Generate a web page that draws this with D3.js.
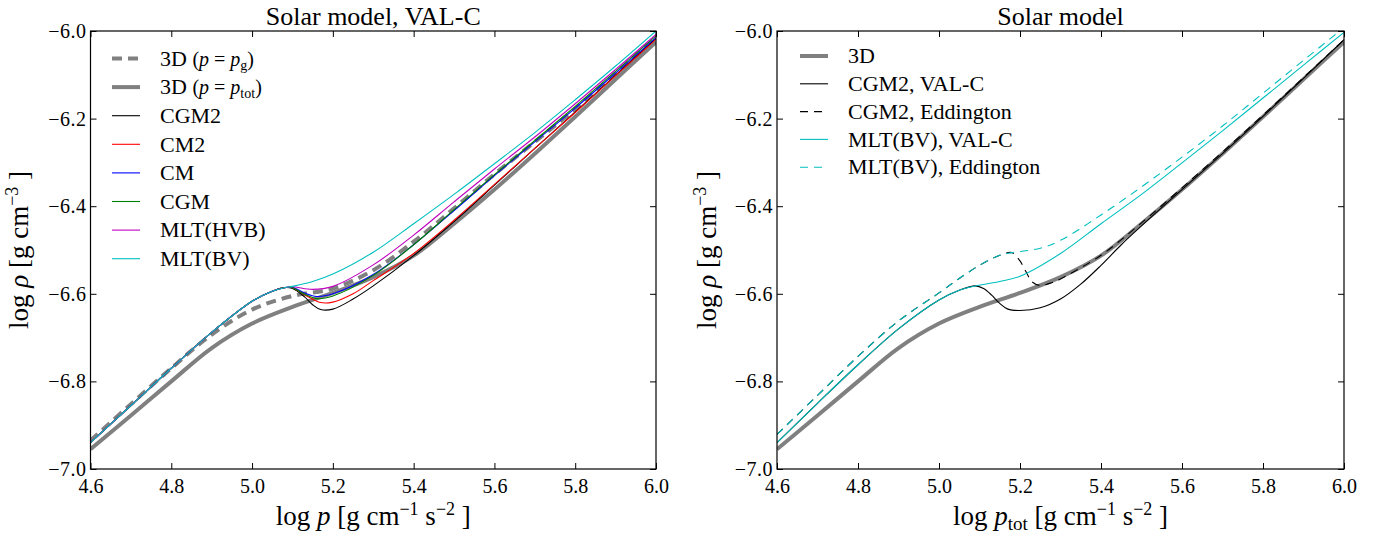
<!DOCTYPE html>
<html><head><meta charset="utf-8">
<script src="https://cdn.jsdelivr.net/npm/d3@7"></script>
<style>
body{margin:0;background:#fff;}
svg text{font-family:"Liberation Serif","Times New Roman",serif;fill:#000;}
</style></head>
<body><svg id="c" width="1386" height="535"></svg>
<script>
// ---------- tick values ----------
const xTicks = [4.6, 4.8, 5.0, 5.2, 5.4, 5.6, 5.8, 6.0];
const yTicks = [-7.0, -6.8, -6.6, -6.4, -6.2, -6.0];

// ---------- left panel: Solar model, VAL-C (x = log p) ----------
const lowX = [4.6, 4.7, 4.8, 4.9, 5.0, 5.05, 5.08];
const lowY = [-6.940, -6.855, -6.770, -6.688, -6.617, -6.594, -6.586];

const grid = [4.6, 4.7, 4.8, 4.9, 5.0, 5.1, 5.2, 5.3, 5.4, 5.5, 5.6, 5.7, 5.8, 5.9, 6.0];
const d3pgY   = [-6.935, -6.852, -6.770, -6.693, -6.636, -6.605, -6.588, -6.546, -6.481, -6.405, -6.327, -6.253, -6.178, -6.097, -6.015];
const d3ptotY = [-6.955, -6.878, -6.800, -6.724, -6.668, -6.630, -6.598, -6.562, -6.513, -6.440, -6.362, -6.280, -6.196, -6.110, -6.025];

const cgm2X = [5.1, 5.13, 5.15, 5.17, 5.2, 5.25, 5.3, 5.4, 5.5, 5.6, 5.7, 5.8, 5.9, 6.0];
const cgm2Y = [-6.588, -6.607, -6.625, -6.636, -6.635, -6.612, -6.582, -6.513, -6.435, -6.352, -6.268, -6.185, -6.101, -6.017];
const cm2X  = [5.1, 5.13, 5.17, 5.2, 5.25, 5.3, 5.4, 5.5, 5.6, 5.7, 5.8, 5.9, 6.0];
const cm2Y  = [-6.586, -6.602, -6.620, -6.619, -6.600, -6.570, -6.508, -6.432, -6.350, -6.268, -6.186, -6.102, -6.019];
const cmX   = [5.1, 5.13, 5.16, 5.2, 5.3, 5.4, 5.5, 5.6, 5.7, 5.8, 5.9, 6.0];
const cmY   = [-6.585, -6.598, -6.606, -6.600, -6.556, -6.488, -6.410, -6.330, -6.253, -6.176, -6.096, -6.015];
const cgmX  = [5.1, 5.13, 5.16, 5.2, 5.3, 5.4, 5.5, 5.6, 5.7, 5.8, 5.9, 6.0];
const cgmY  = [-6.586, -6.601, -6.611, -6.605, -6.558, -6.488, -6.408, -6.328, -6.250, -6.172, -6.092, -6.011];
const hvbX  = [5.1, 5.15, 5.2, 5.3, 5.4, 5.5, 5.6, 5.7, 5.8, 5.9, 6.0];
const hvbY  = [-6.584, -6.590, -6.583, -6.534, -6.466, -6.390, -6.315, -6.242, -6.166, -6.088, -6.008];
const bvX   = [5.1, 5.15, 5.2, 5.3, 5.4, 5.5, 5.6, 5.7, 5.8, 5.9, 6.0];
const bvY   = [-6.583, -6.572, -6.555, -6.505, -6.440, -6.373, -6.303, -6.232, -6.157, -6.080, -6.000];

// ---------- right panel: Solar model (x = log p_tot) ----------
const rBvX = [4.6, 4.7, 4.8, 4.9, 5.0, 5.05, 5.09, 5.15, 5.2, 5.3, 5.4, 5.5, 5.6, 5.7, 5.8, 5.9, 6.0];
const rBvY = [-6.940, -6.850, -6.762, -6.680, -6.614, -6.592, -6.582, -6.572, -6.560, -6.508, -6.440, -6.373, -6.301, -6.228, -6.153, -6.078, -6.003];
const rCgm2TailX = [5.11, 5.13, 5.15, 5.17, 5.2, 5.25, 5.3, 5.35, 5.4, 5.45, 5.5, 5.6, 5.7, 5.8, 5.9, 6.0];
const rCgm2TailY = [-6.588, -6.603, -6.622, -6.635, -6.638, -6.632, -6.612, -6.578, -6.535, -6.488, -6.445, -6.362, -6.280, -6.195, -6.108, -6.020];
const rEddX = [4.6, 4.7, 4.8, 4.9, 5.0, 5.05, 5.1, 5.15, 5.18, 5.25, 5.3, 5.4, 5.5, 5.6, 5.7, 5.8, 5.9, 6.0];
const rEddY = [-6.921, -6.832, -6.743, -6.662, -6.598, -6.565, -6.535, -6.512, -6.506, -6.496, -6.478, -6.420, -6.356, -6.288, -6.217, -6.142, -6.067, -5.992];
const rCgm2EddTailX = [5.2, 5.215, 5.23, 5.25, 5.28, 5.3, 5.4, 5.5, 5.6, 5.7, 5.8, 5.9, 6.0];
const rCgm2EddTailY = [-6.525, -6.550, -6.573, -6.581, -6.574, -6.566, -6.512, -6.438, -6.358, -6.276, -6.192, -6.106, -6.020];

const zip = (xs, ys) => xs.map((x, i) => [x, ys[i]]);

const GRAY = "#808080";
const leftSeries = [
  {data: zip(grid, d3pgY),   color: GRAY, w: 4, dash: "10,6"},
  {data: zip(grid, d3ptotY), color: GRAY, w: 4, dash: null},
  {data: zip(lowX.concat(cgm2X), lowY.concat(cgm2Y)), color: "#000000", w: 1.1, dash: null},
  {data: zip(lowX.concat(cm2X),  lowY.concat(cm2Y)),  color: "#ff0000", w: 1.1, dash: null},
  {data: zip(lowX.concat(cmX),   lowY.concat(cmY)),   color: "#0000ff", w: 1.1, dash: null},
  {data: zip(lowX.concat(cgmX),  lowY.concat(cgmY)),  color: "#008000", w: 1.1, dash: null},
  {data: zip(lowX.concat(hvbX), lowY.concat(hvbY)), color: "#bf00bf", w: 1.1, dash: null},
  {data: zip(lowX.concat(bvX),  lowY.concat(bvY)),  color: "#00bfbf", w: 1.1, dash: null}
];
// black curves share the read values of the cyan ones before they split
const rBvSplit = 7;
const rEddSplit = 9;
const rightSeries = [
  {data: zip(grid, d3ptotY), color: GRAY, w: 4, dash: null},
  {data: zip(rBvX.slice(0, rBvSplit).concat(rCgm2TailX), rBvY.slice(0, rBvSplit).concat(rCgm2TailY)), color: "#000000", w: 1.1, dash: null},
  {data: zip(rEddX.slice(0, rEddSplit).concat(rCgm2EddTailX), rEddY.slice(0, rEddSplit).concat(rCgm2EddTailY)), color: "#000000", w: 1.1, dash: "8,6"},
  {data: zip(rBvX, rBvY), color: "#00bfbf", w: 1.1, dash: null},
  {data: zip(rEddX, rEddY), color: "#00bfbf", w: 1.1, dash: "8,6"}
];

const svg = d3.select("#c");
const TOP = 31, BOT = 469;
const fmt = d => (d < 0 ? "\u2212" : "") + Math.abs(d).toFixed(1);

function panel(id, x0, x1, title, series, legendItems, legendX, legendY0, legendDy, xLabelParts, yLabelX) {
  const x = d3.scaleLinear().domain([4.6, 6.0]).range([x0, x1]);
  const y = d3.scaleLinear().domain([-7.0, -6.0]).range([BOT, TOP]);
  const g = svg.append("g");
  g.append("clipPath").attr("id", "clip" + id).append("rect")
    .attr("x", x0).attr("y", TOP).attr("width", x1 - x0).attr("height", BOT - TOP);
  const line = d3.line().x(d => x(d[0])).y(d => y(d[1])).curve(d3.curveCatmullRom.alpha(0.5));
  const lg = g.append("g").attr("clip-path", `url(#clip${id})`);
  series.forEach(s => {
    lg.append("path").attr("d", line(s.data)).attr("fill", "none")
      .attr("stroke", s.color).attr("stroke-width", s.w)
      .attr("stroke-dasharray", s.dash).attr("stroke-linejoin", "round");
  });
  const tick = 6;
  const axB = d3.axisBottom(x).tickValues(xTicks).tickSizeInner(-tick).tickSizeOuter(0).tickFormat(fmt).tickPadding(10);
  const axT = d3.axisTop(x).tickValues(xTicks).tickSizeInner(-tick).tickSizeOuter(0).tickFormat("");
  const axL = d3.axisLeft(y).tickValues(yTicks).tickSizeInner(-tick).tickSizeOuter(0).tickFormat(fmt).tickPadding(4);
  const axR = d3.axisRight(y).tickValues(yTicks).tickSizeInner(-tick).tickSizeOuter(0).tickFormat("");
  const gb = g.append("g").attr("transform", `translate(0,${BOT})`).call(axB);
  const gt = g.append("g").attr("transform", `translate(0,${TOP})`).call(axT);
  const gl = g.append("g").attr("transform", `translate(${x0},0)`).call(axL);
  const gr = g.append("g").attr("transform", `translate(${x1},0)`).call(axR);
  [gb, gt, gl, gr].forEach(a => {
    a.select(".domain").remove();
    a.selectAll("line").attr("stroke", "#000").attr("stroke-width", 1);
    a.selectAll("text").style("font-family", "Liberation Serif").style("font-size", "20px").attr("fill", "#000");
  });
  gl.selectAll("text").style("letter-spacing", "0.5px");
  g.append("rect").attr("x", x0).attr("y", TOP).attr("width", x1 - x0).attr("height", BOT - TOP)
    .attr("fill", "none").attr("stroke", "#000").attr("stroke-width", 1.2);
  g.append("text").attr("x", (x0 + x1) / 2).attr("y", 25).attr("text-anchor", "middle")
    .style("font-size", "26px").text(title);
  const xl = g.append("text").attr("x", (x0 + x1) / 2).attr("y", 525).attr("text-anchor", "middle").style("font-size", "27px");
  xLabelParts.forEach(p => {
    const t = xl.append("tspan").text(p.t);
    if (p.i) t.style("font-style", "italic");
    if (p.sup) t.attr("baseline-shift", "55%").style("font-size", "18px");
    if (p.sub) t.attr("baseline-shift", "-25%").style("font-size", "19px");
  });
  const yl = g.append("text").attr("transform", `translate(${yLabelX},${(TOP + BOT) / 2}) rotate(-90)`)
    .attr("text-anchor", "middle").style("font-size", "27px");
  yl.append("tspan").text("log ");
  yl.append("tspan").text("ρ").style("font-style", "italic");
  yl.append("tspan").text(" [g cm");
  yl.append("tspan").text("−3").attr("baseline-shift", "55%").style("font-size", "18px");
  yl.append("tspan").text("  ]");
  legendItems.forEach((it, i) => {
    const s = series[it.idx];
    const yy = legendY0 + i * legendDy;
    g.append("line").attr("x1", legendX).attr("x2", legendX + 28).attr("y1", yy).attr("y2", yy)
      .attr("stroke", s.color).attr("stroke-width", s.w).attr("stroke-dasharray", s.dash);
    const t = g.append("text").attr("x", legendX + 48).attr("y", yy).attr("dy", "0.33em").style("font-size", "22px");
    it.parts.forEach(p => {
      const ts = t.append("tspan").text(p.t);
      if (p.i) ts.style("font-style", "italic");
      if (p.small) ts.style("font-size", "20px");
      if (p.sub) ts.attr("baseline-shift", "-25%").style("font-size", "14px");
    });
  });
}

panel("L", 90.5, 656, "Solar model, VAL-C", leftSeries, [
  {idx: 0, parts: [{t: "3D "}, {t: "(", small: 1}, {t: "p", i: 1, small: 1}, {t: " = ", small: 1}, {t: "p", i: 1, small: 1}, {t: "g", sub: 1}, {t: ")", small: 1}]},
  {idx: 1, parts: [{t: "3D "}, {t: "(", small: 1}, {t: "p", i: 1, small: 1}, {t: " = ", small: 1}, {t: "p", i: 1, small: 1}, {t: "tot", sub: 1}, {t: ")", small: 1}]},
  {idx: 2, parts: [{t: "CGM2"}]},
  {idx: 3, parts: [{t: "CM2"}]},
  {idx: 4, parts: [{t: "CM"}]},
  {idx: 5, parts: [{t: "CGM"}]},
  {idx: 6, parts: [{t: "MLT(HVB)"}]},
  {idx: 7, parts: [{t: "MLT(BV)"}]}
], 112, 58.5, 28.6,
  [{t: "log "}, {t: "p", i: 1}, {t: " [g cm"}, {t: "−1", sup: 1}, {t: "  s"}, {t: "−2", sup: 1}, {t: "  ]"}], 28);

panel("R", 777, 1344, "Solar model", rightSeries, [
  {idx: 0, parts: [{t: "3D"}]},
  {idx: 1, parts: [{t: "CGM2, VAL-C"}]},
  {idx: 2, parts: [{t: "CGM2, Eddington"}]},
  {idx: 3, parts: [{t: "MLT(BV), VAL-C"}]},
  {idx: 4, parts: [{t: "MLT(BV), Eddington"}]}
], 800, 56, 27.8,
  [{t: "log "}, {t: "p", i: 1}, {t: "tot", sub: 1}, {t: " [g cm"}, {t: "−1", sup: 1}, {t: "  s"}, {t: "−2", sup: 1}, {t: "  ]"}], 716);
</script></body></html>
